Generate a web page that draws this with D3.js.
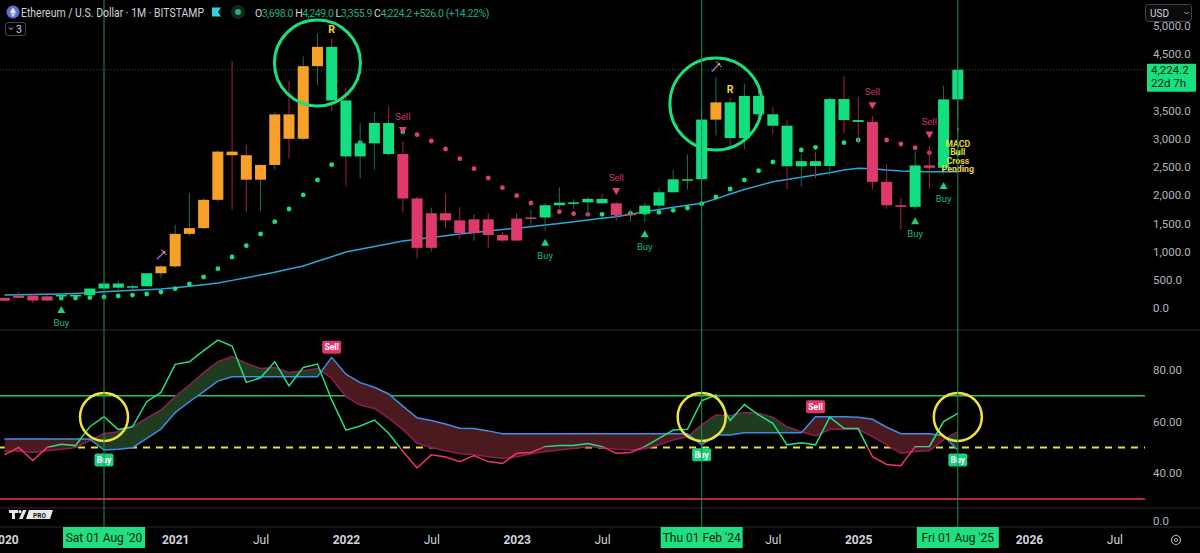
<!DOCTYPE html>
<html><head><meta charset="utf-8">
<script src="https://cdn.jsdelivr.net/npm/d3@7"></script>
<style>html,body{margin:0;padding:0;background:#000;overflow:hidden}svg{display:block;font-family:Roboto,"Noto Sans",sans-serif}</style>
</head><body><svg id="c" width="1200" height="553"></svg>
<script>
// ---------------- DATA ----------------
const months = ["2020-01","2020-02","2020-03","2020-04","2020-05","2020-06","2020-07","2020-08","2020-09","2020-10","2020-11","2020-12",
"2021-01","2021-02","2021-03","2021-04","2021-05","2021-06","2021-07","2021-08","2021-09","2021-10","2021-11","2021-12",
"2022-01","2022-02","2022-03","2022-04","2022-05","2022-06","2022-07","2022-08","2022-09","2022-10","2022-11","2022-12",
"2023-01","2023-02","2023-03","2023-04","2023-05","2023-06","2023-07","2023-08","2023-09","2023-10","2023-11","2023-12",
"2024-01","2024-02","2024-03","2024-04","2024-05","2024-06","2024-07","2024-08","2024-09","2024-10","2024-11","2024-12",
"2025-01","2025-02","2025-03","2025-04","2025-05","2025-06","2025-07","2025-08"];
const open  = [129,180,218,133,207,231,226,345,434,360,386,616, 738,1314,1416,1918,2773,2709,2275,2536,3433,3000,4288,4630, 3680,2688,2920,3280,2730,1942,1067,1680,1554,1328,1572,1296, 1196,1585,1605,1822,1868,1873,1934,1856,1646,1671,1815,2052, 2282,2283,3340,3646,3013,3760,3435,3232,2513,2603,2518,3705, 3332,3300,2237,1822,1794,2528,2486,3698];
const high  = [184,288,253,228,240,254,347,488,489,420,623,758, 1475,2040,1943,2797,4380,2891,2551,3470,4030,4460,4870,4780, 3900,3280,3480,3580,2960,1970,1780,2030,1790,1660,1680,1350, 1680,1740,1860,2140,1930,1960,2030,1880,1750,1865,2130,2450, 2720,3520,4090,3730,3980,3890,3560,3330,2730,2770,3740,4110, 3745,3400,2550,1955,2790,2880,3940,4249];
const low   = [127,180,90,125,178,216,225,335,308,335,372,535, 714,1272,1400,1890,1737,1703,1718,2450,2650,2970,3950,3500, 2160,2300,2450,2700,1700,880,1000,1420,1220,1190,1070,1160, 1190,1460,1370,1780,1760,1620,1850,1550,1530,1520,1770,2050, 2100,2250,3060,2850,2820,3240,3090,2110,2150,2300,2360,3100, 2920,2100,1760,1385,1750,2110,2375,3355.9];
const close = [180,218,133,207,231,226,345,434,360,386,616,738, 1314,1416,1918,2773,2709,2275,2536,3433,3000,4288,4630,3680, 2688,2920,3280,2730,1942,1067,1680,1554,1328,1572,1296,1196, 1585,1605,1822,1868,1873,1934,1856,1646,1671,1815,2052,2282, 2283,3340,3646,3013,3760,3435,3232,2513,2603,2518,3705,3332, 3300,2237,1822,1794,2528,2486,3698,4224.2];
// body colour state per month (by year): r = bearish, g = bullish, o = strong trend
const bodyStateByYear = ["rrrrgggggggo","ooooooooooog","ggggrrrrrrrr","rrgggggrrggg","ggoggggggggg","grrrgrgg"];
// trailing stop dots
const sarValue = [null,null,null,null,177,177,183,195,213,230,248,284, 342,426,550,697,904,1105,1312,1530,1755,2004,2270,2541, 2750,2931,3030,3080,3126,3073,2961,2819,2647,2470,2305,2133, 1991,1862,1760,1707,1672,1661,1661,1670,1679,1690,1697,1732, 1773,1849,1968,2110,2270,2434,2589,2680,2801,2849,2900,2931, 2979,3000,2979,2908,2842,2754,2700,2743];
const sarDirByYear = ["gggggggggggg","gggggggggggg","gggggrrrrrrr","rrrrrrgggggg","gggggggggggg","grrrrrgg"];
const maValue = [230,235,240,245,250,258,270,290,302,313,324,337, 360,385,412,443,490,535,585,635,690,745,830,910, 993,1040,1090,1140,1188,1220,1250,1280,1312,1340,1365,1390, 1415,1441,1470,1500,1530,1560,1590,1620,1660,1707,1745,1785, 1820,1856,1935,2021,2100,2170,2239,2280,2320,2358,2400,2445, 2477,2470,2447,2430,2420,2417,2417,2417];
// oscillator pane
const rsiValue = [47.1,50.0,44.9,50.0,51.2,50.7,58.0,61.9,56.9,58.0,67.7,71.3, 82.2,83.2,87.5,91.6,89.3,75.2,77.0,83.2,73.8,81.0,82.3,68.4, 56.7,58.3,60.6,55.5,48.5,42.0,47.1,46.3,44.5,46.8,44.5,43.8, 47.7,48.0,50.3,50.7,50.7,51.5,50.3,47.7,48.0,50.3,53.5,56.7, 57.0,68.1,70.3,60.4,66.6,62.6,59.3,51.0,51.8,51.0,61.7,57.4, 57.3,46.4,43.4,42.9,50.3,50.3,60.0,63.2];
const blueValue = [53.3,53.3,53.3,53.3,53.3,53.3,53.3,49.0,49.3,49.9,53.5,57.1, 63.5,67.7,71.6,75.7,77.4,77.4,77.4,77.4,77.4,77.4,77.4,84.9, 78.4,75.1,73.3,70.7,66.0,61.5,60.4,59.1,57.4,57.3,56.4,55.3, 55.3,55.3,55.3,55.3,55.3,55.3,55.3,55.3,55.3,55.3,55.3,55.3, 55.3,51.0,54.8,54.8,55.7,55.7,55.7,55.7,55.7,61.9,61.9,61.9, 61.7,60.9,57.8,55.3,55.3,55.3,54.5,49.0];
const maroonValue = [48.4,48.7,48.0,48.7,49.3,50.0,52.6,55.4,56.1,58.0,61.3,64.5, 69.7,74.2,79.0,83.2,85.2,82.6,80.6,81.0,79.0,79.7,80.6,76.8, 69.7,66.4,65.1,61.3,57.0,51.6,50.0,48.7,47.5,47.2,46.4,45.8, 46.4,47.5,48.4,49.0,49.6,50.3,50.0,49.3,49.0,49.5,51.0,52.9, 54.2,58.7,62.6,62.3,63.5,63.2,61.7,58.0,56.1,54.4,57.0,57.0, 57.0,54.2,51.0,47.7,48.4,48.7,52.9,56.1];
const levelValues = [70,50,30];
// annotations
const buySignals = [4,38,45,64,66];
const sellSignals = [28,43,61,65];
const rSignals = [23,51];
const wandSignals = [11,50];
const macdSignal = 67;
const macdLines = ["MACD","Bull","Cross","Pending"];
const oscBuy = [7,49,67];
const oscSell = [23,57];
const priceCircles = [[22,4344],[50,3617]];
const oscCircles = [[7,61.8],[49,61.8],[67,61.8]];
const markerMonths = [7,49,67];
const markerLabels = ["Sat 01 Aug '20","Thu 01 Feb '24","Fri 01 Aug '25"];
// header
const headerTitle = "Ethereum / U.S. Dollar · 1M · BITSTAMP";
const headerChange = 526.0, headerChangePct = 14.22;
// axis ticks (labels covered in the reference by the price / date badges are left out)
const priceTicks = [0,500,1000,1500,2000,2500,3000,3500,4500,5000];
const oscTicks = [40,60,80];
const timeTickIdx = [0,12,18,24,30,36,42,54,60,72,78];
const timeTickLabels = ["2020","2021","Jul","2022","Jul","2023","Jul","Jul","2025","2026","Jul"];
const lastPrice = 4224.2, countdown = "22d 7h";

const bodyState = bodyStateByYear.join("").split("");
const sarDir = sarDirByYear.join("").split("");

// ---------------- DRAW ----------------
const svg = d3.select("#c");
const W = 1200, H = 553, PR = 1145;
const P_TOP = 0, P_BOT = 330, I_TOP = 330, I_BOT = 508;
svg.append("rect").attr("width", W).attr("height", H).attr("fill", "#000");

const x = d3.scaleLinear().domain([0, 78]).range([4.4, 4.4 + 14.23 * 78]);
const yP = d3.scaleLinear().domain([0, 5000]).range([308, 26]);
const yI = d3.scaleLinear().domain([40, 80]).range([473.2, 370]);

const defs = svg.append("defs");
defs.append("clipPath").attr("id", "cp").append("rect").attr("x", 0).attr("y", P_TOP).attr("width", PR).attr("height", P_BOT - P_TOP);
defs.append("clipPath").attr("id", "ci").append("rect").attr("x", 0).attr("y", I_TOP).attr("width", PR).attr("height", I_BOT - I_TOP);

const C = {green:"#12e080", red:"#de3a6b", orange:"#f7a12b", wickUp:"#1c6d55", wickDn:"#a3224f",
  sarG:"#19df7c", sarR:"#e23d6d", ma:"#2aa9d8", grid:"#2a2e39", text:"#b2b5be"};

[I_TOP, I_BOT, 527].forEach(yv => svg.append("line").attr("x1", 0).attr("x2", W).attr("y1", yv).attr("y2", yv).attr("stroke", C.grid).attr("stroke-width", 1));

// ---- price pane
const gp = svg.append("g").attr("clip-path", "url(#cp)");
gp.append("line").attr("x1", 0).attr("x2", PR).attr("y1", yP(lastPrice)).attr("y2", yP(lastPrice))
  .attr("stroke", "#1d6a3f").attr("stroke-width", 1).attr("stroke-dasharray", "1,2");

gp.append("path").datum(maValue).attr("fill", "none").attr("stroke", C.ma).attr("stroke-width", 1.5)
  .attr("d", d3.line().x((d, i) => x(i)).y(d => yP(d)));

gp.selectAll(".sar").data(sarValue.map((v, i) => ({v, i, dir: sarDir[i]})).filter(d => d.v != null))
  .enter().append("circle").attr("cx", d => x(d.i)).attr("cy", d => yP(d.v)).attr("r", 2.4)
  .attr("fill", d => d.dir === "g" ? C.sarG : C.sarR);

const candles = months.map((m, i) => ({i, o: open[i], h: high[i], l: low[i], c: close[i], s: bodyState[i]}));
gp.selectAll(".wick").data(candles).enter().append("line")
  .attr("x1", d => x(d.i)).attr("x2", d => x(d.i)).attr("y1", d => yP(d.h)).attr("y2", d => yP(d.l))
  .attr("stroke", d => d.c >= d.o ? C.wickUp : C.wickDn).attr("stroke-width", 1);
const BW = 11;
gp.selectAll(".body").data(candles).enter().append("rect")
  .attr("x", d => x(d.i) - BW / 2).attr("width", BW)
  .attr("y", d => yP(Math.max(d.o, d.c)))
  .attr("height", d => Math.max(1.5, Math.abs(yP(d.o) - yP(d.c))))
  .attr("fill", d => d.s === "g" ? C.green : d.s === "r" ? C.red : C.orange);

buySignals.forEach(i => {
  const cx = x(i), yl = yP(low[i]);
  gp.append("path").attr("d", `M${cx},${yl + 8} L${cx + 4},${yl + 15} L${cx - 4},${yl + 15} Z`).attr("fill", "#16d27a");
  gp.append("text").attr("x", cx).attr("y", yl + 28).attr("text-anchor", "middle").attr("font-size", 9.5).attr("fill", "#17b872").text("Buy");
});
sellSignals.forEach(i => {
  const cx = x(i), yh = yP(high[i]);
  gp.append("path").attr("d", `M${cx - 4},${yh - 14} L${cx + 4},${yh - 14} L${cx},${yh - 7} Z`).attr("fill", "#e0406e");
  gp.append("text").attr("x", cx).attr("y", yh - 21).attr("text-anchor", "middle").attr("font-size", 9.5).attr("fill", "#c83660").text("Sell");
});
rSignals.forEach(i => {
  gp.append("text").attr("x", x(i)).attr("y", yP(high[i]) - 5).attr("text-anchor", "middle")
    .attr("font-size", 10.5).attr("font-weight", 700).attr("fill", "#f2d43d").text("R");
});
wandSignals.forEach(i => {
  const cx = x(i), cy = yP(high[i]) - 10;
  gp.append("line").attr("x1", cx - 4).attr("y1", cy + 4).attr("x2", cx + 2).attr("y2", cy - 2).attr("stroke", "#9b5ad6").attr("stroke-width", 1.6);
  gp.append("circle").attr("cx", cx + 3).attr("cy", cy - 3).attr("r", 1.4).attr("fill", "#f0a040");
  gp.append("circle").attr("cx", cx + 5).attr("cy", cy - 1).attr("r", 0.8).attr("fill", "#f0a040");
  gp.append("circle").attr("cx", cx + 1).attr("cy", cy - 5).attr("r", 0.8).attr("fill", "#f0a040");
});
{
  const cx = x(macdSignal), yl = yP(low[macdSignal]);
  gp.append("text").attr("x", cx).attr("y", yl + 14).attr("text-anchor", "middle").attr("font-size", 9).attr("font-weight", 700).attr("fill", "#e3d34a").text("↑");
  macdLines.forEach((t, k) => gp.append("text").attr("x", cx).attr("y", yl + 28 + k * 8.4).attr("text-anchor", "middle")
    .attr("font-size", 8.8).attr("font-weight", 700).attr("fill", "#e3d34a").text(t));
}
priceCircles.forEach(([i, p], k) => {
  gp.append("circle").attr("cx", x(i)).attr("cy", yP(p)).attr("r", k === 0 ? 43 : 46)
    .attr("fill", "none").attr("stroke", "#19e07c").attr("stroke-width", 3);
});

// ---- oscillator pane
const gi = svg.append("g").attr("clip-path", "url(#ci)");
const lvlColor = ["#22c463", "#e8df3a", "#f0355f"];
levelValues.forEach((v, k) => gi.append("line").attr("x1", 0).attr("x2", PR).attr("y1", yI(v)).attr("y2", yI(v))
  .attr("stroke", lvlColor[k]).attr("stroke-width", k === 1 ? 2 : 1.5).attr("stroke-dasharray", k === 1 ? "7,6" : null));

const areaBand = d3.area().x((d, i) => x(i)).y0((d, i) => yI(blueValue[i])).y1((d, i) => yI(maroonValue[i]));
defs.append("clipPath").attr("id", "above").append("path").datum(blueValue)
  .attr("d", d3.area().x((d, i) => x(i)).y0(I_TOP).y1(d => yI(d)));
defs.append("clipPath").attr("id", "below").append("path").datum(blueValue)
  .attr("d", d3.area().x((d, i) => x(i)).y0(d => yI(d)).y1(I_BOT));
gi.append("g").attr("clip-path", "url(#above)").append("path").datum(maroonValue).attr("d", areaBand).attr("fill", "#1f3c21");
gi.append("g").attr("clip-path", "url(#below)").append("path").datum(maroonValue).attr("d", areaBand).attr("fill", "#4a1a1e");

const lineI = d3.line().x((d, i) => x(i)).y(d => yI(d));
gi.append("path").datum(maroonValue).attr("fill", "none").attr("stroke", "#8e1d52").attr("stroke-width", 1.5).attr("d", lineI);
gi.append("path").datum(blueValue).attr("fill", "none").attr("stroke", "#3b8fe6").attr("stroke-width", 1.5).attr("d", lineI);
const grad = defs.append("linearGradient").attr("id", "rsiG").attr("gradientUnits", "userSpaceOnUse")
  .attr("x1", 0).attr("x2", 0).attr("y1", I_TOP).attr("y2", I_BOT);
const off = (yI(50) - I_TOP) / (I_BOT - I_TOP);
grad.append("stop").attr("offset", off).attr("stop-color", "#22e07c");
grad.append("stop").attr("offset", off).attr("stop-color", "#ef3468");
gi.append("path").datum(rsiValue).attr("fill", "none").attr("stroke", "url(#rsiG)").attr("stroke-width", 1.5).attr("d", lineI);

oscCircles.forEach(([i, v]) => gi.append("circle").attr("cx", x(i)).attr("cy", yI(v)).attr("r", 24)
  .attr("fill", "none").attr("stroke", "#f3e23a").attr("stroke-width", 2.5));

function tag(g, cx, cy, txt, bg) {
  g.append("rect").attr("x", cx - 9.5).attr("y", cy - 6.5).attr("width", 19).attr("height", 13).attr("rx", 2).attr("fill", bg);
  g.append("text").attr("x", cx).attr("y", cy + 3).attr("text-anchor", "middle").attr("font-size", 8.5).attr("font-weight", 700).attr("fill", "#fff").text(txt);
}
oscBuy.forEach(i => tag(gi, x(i), yI(blueValue[i]) + 10, "Buy", "#17d27a"));
oscSell.forEach(i => tag(gi, x(i), yI(blueValue[i]) - 10, "Sell", "#e0356a"));

// ---- marker vertical lines
markerMonths.forEach(i => svg.append("line").attr("x1", x(i)).attr("x2", x(i)).attr("y1", 0).attr("y2", 527)
  .attr("stroke", "#228a58").attr("stroke-width", 1));

// ---- price axis
const ax = svg.append("g").attr("transform", "translate(1153,0)")
  .call(d3.axisRight(yP).tickValues(priceTicks).tickFormat(d3.format(",.1f")).tickSize(0).tickPadding(0));
ax.select(".domain").remove();
ax.selectAll("text").attr("fill", C.text).attr("font-size", 11.5).attr("font-family", "Roboto,sans-serif");
const ai = svg.append("g").attr("transform", "translate(1153,0)")
  .call(d3.axisRight(yI).tickValues(oscTicks).tickFormat(d3.format(".2f")).tickSize(0).tickPadding(0));
ai.select(".domain").remove();
ai.selectAll("text").attr("fill", C.text).attr("font-size", 11.5).attr("font-family", "Roboto,sans-serif");
svg.append("text").attr("x", 1153).attr("y", 525).attr("fill", C.text).attr("font-size", 11.5).text(d3.format(".1f")(0));

svg.append("rect").attr("x", 1147).attr("y", yP(lastPrice) - 6).attr("width", 49).attr("height", 28).attr("fill", "#17e07f").attr("rx", 1);
svg.append("text").attr("x", 1151).attr("y", yP(lastPrice) + 4).attr("font-size", 11.5).attr("fill", "#0a1f14").text(d3.format(",.1f")(lastPrice));
svg.append("text").attr("x", 1151).attr("y", yP(lastPrice) + 17).attr("font-size", 11.5).attr("fill", "#0a1f14").text(countdown);

svg.append("rect").attr("x", 1145.5).attr("y", 4.5).attr("width", 46).attr("height", 17).attr("rx", 3).attr("fill", "#0b0b0d").attr("stroke", "#434651");
svg.append("text").attr("x", 1150).attr("y", 16.5).attr("font-size", 10).attr("fill", "#d1d4dc").text("USD");
svg.append("path").attr("d", "M1184.5,12 l2,2 l2,-2").attr("fill", "none").attr("stroke", "#b2b5be").attr("stroke-width", 1);

// ---- time axis
const at = svg.append("g").attr("transform", "translate(0,528)")
  .call(d3.axisBottom(x).tickValues(timeTickIdx).tickFormat((d, k) => timeTickLabels[k]).tickSize(0).tickPadding(5));
at.select(".domain").remove();
at.selectAll("text").attr("fill", "#d1d4dc").attr("font-size", 12).attr("font-family", "Roboto,sans-serif")
  .attr("font-weight", (d, k) => /^\d/.test(timeTickLabels[k]) ? 700 : 400).attr("dy", "0.9em");
markerMonths.forEach((i, k) => {
  svg.append("rect").attr("x", x(i) - 41).attr("y", 527).attr("width", 82).attr("height", 21).attr("fill", "#1ee07f");
  svg.append("text").attr("x", x(i)).attr("y", 542).attr("text-anchor", "middle").attr("font-size", 12).attr("fill", "#0a1a12").text(markerLabels[k]);
});
svg.append("circle").attr("cx", 1176).attr("cy", 540).attr("r", 4.5).attr("fill", "none").attr("stroke", "#b2b5be").attr("stroke-width", 1.2);
svg.append("circle").attr("cx", 1176).attr("cy", 540).attr("r", 1.6).attr("fill", "none").attr("stroke", "#b2b5be").attr("stroke-width", 1);

// TV PRO logo
const lg = svg.append("g").attr("fill", "#e8e8e8");
lg.append("path").attr("d", "M9,510 h9 v3 h-3 v6 h-3 v-6 h-3 z");
lg.append("circle").attr("cx", 20).attr("cy", 511.7).attr("r", 1.6);
lg.append("path").attr("d", "M23,510 h3.5 l-4,9 h-3.5 z");
lg.append("path").attr("d", "M29,510 h24 l-3,9 h-24 z");
svg.append("text").attr("x", 39.5).attr("y", 517.5).attr("text-anchor", "middle").attr("font-size", 6.5).attr("font-weight", 700).attr("fill", "#131313").text("PRO");

// ---- header
const hd = svg.append("g");
hd.append("circle").attr("cx", 13).attr("cy", 12).attr("r", 6.5).attr("fill", "#5f6fd6");
hd.append("path").attr("d", "M13,7.5 l3,4.7 l-3,1.7 l-3,-1.7 z M10,12.9 l3,1.8 l3,-1.8 l-3,4 z").attr("fill", "#e6e9ff");
hd.append("text").attr("x", 21).attr("y", 16.5).attr("font-size", 12.5).attr("fill", "#d1d4dc")
  .attr("textLength", 183).attr("lengthAdjust", "spacingAndGlyphs").text(headerTitle);
hd.append("path").attr("d", "M212,7.5 h9 l-3,4.5 l3,4.5 h-9 z").attr("fill", "#2ad4e8");
hd.append("circle").attr("cx", 238).attr("cy", 12).attr("r", 7).attr("fill", "#0d2a21");
hd.append("circle").attr("cx", 238).attr("cy", 12).attr("r", 3).attr("fill", "#22b07f");
const fmt = d3.format(",.1f");
const last = open.length - 1;
const oh = hd.append("text").attr("x", 255).attr("y", 16.5).attr("font-size", 10.5).attr("letter-spacing", -0.45);
[["O", fmt(open[last])], [" H", fmt(high[last])], [" L", fmt(low[last])], [" C", fmt(close[last])]].forEach(([k, v]) => {
  oh.append("tspan").attr("fill", "#d1d4dc").text(k);
  oh.append("tspan").attr("fill", "#1fae8a").text(v);
});
oh.append("tspan").attr("fill", "#1fae8a").text(` +${fmt(headerChange)} (+${headerChangePct.toFixed(2)}%)`);
hd.append("rect").attr("x", 5.5).attr("y", 22.5).attr("width", 20).attr("height", 13).attr("rx", 2.5).attr("fill", "none").attr("stroke", "#434651");
hd.append("path").attr("d", "M9,27.5 l2,2 l2,-2").attr("fill", "none").attr("stroke", "#d1d4dc").attr("stroke-width", 1);
hd.append("text").attr("x", 16).attr("y", 33).attr("font-size", 10.5).attr("fill", "#d1d4dc").text("3");
</script></body></html>
